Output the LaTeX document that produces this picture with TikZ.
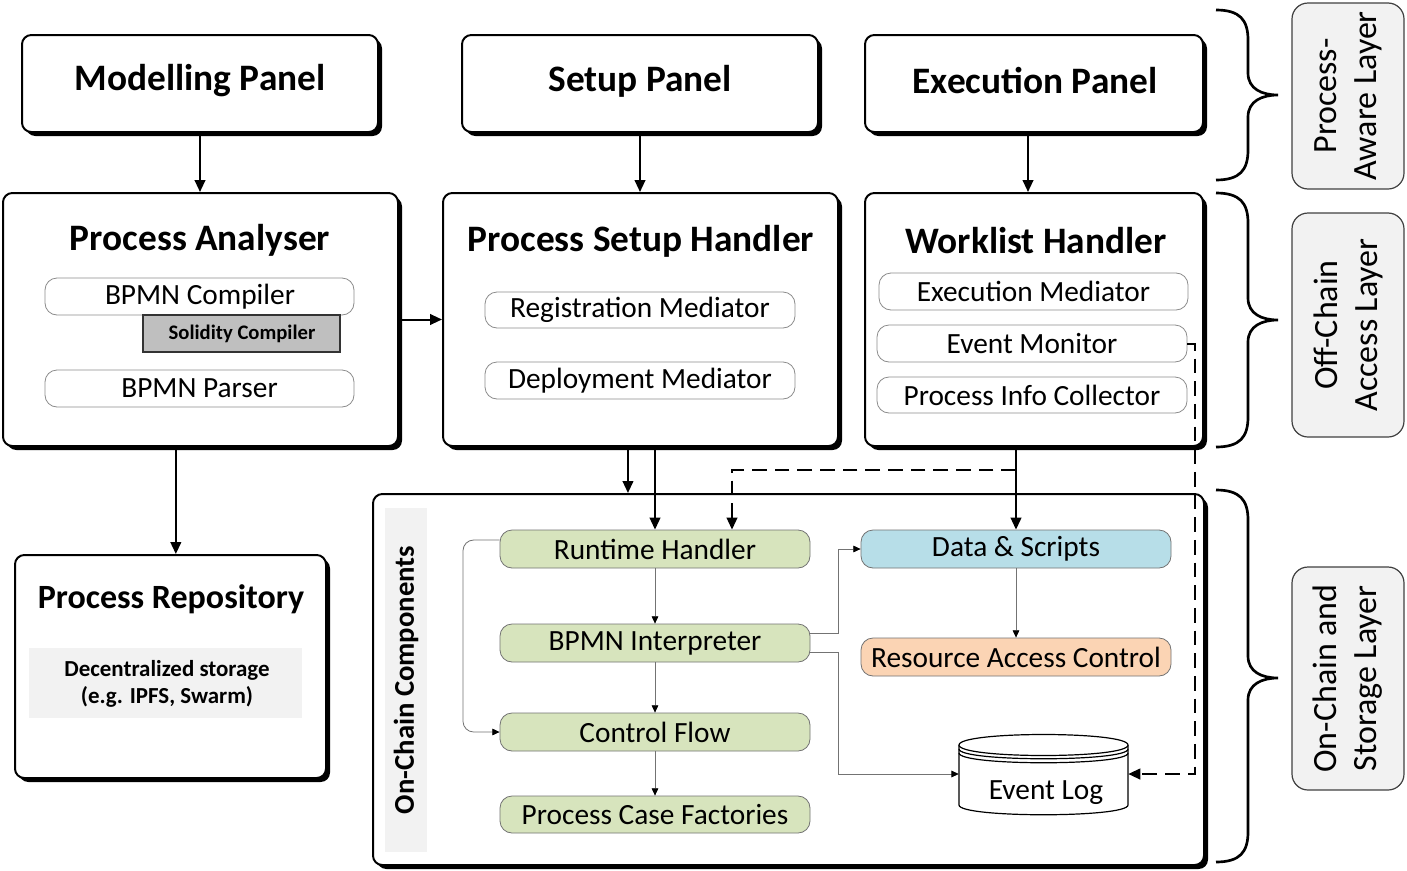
\documentclass[tikz,border=0pt]{standalone}
\usepackage{fontspec}
\setmainfont{Carlito}
\usetikzlibrary{arrows.meta,fit,shadows,calc}
\definecolor{greenbox}{HTML}{D7E4BD}
\definecolor{bluebox}{HTML}{B7DEE8}
\definecolor{peachbox}{HTML}{FBD4B4}
\definecolor{lightgray}{HTML}{F2F2F2}
\definecolor{solgray}{HTML}{BFBFBF}
\newcommand\titlefont{\fontsize{28}{32}\selectfont\bfseries}
\newcommand\subfont{\fontsize{22}{26}\selectfont}
\newcommand\layerfont{\fontsize{25.5}{30}\selectfont}
\newcommand\layerbrace[3]{%
  \draw[brc] (1216,#1) .. controls (1240,#1) and (1248,#1+10) .. (1248,#1+30)
    -- (1248,#2-22) .. controls (1248,#2-6) and (1262,#2) .. (1278,#2)
    .. controls (1262,#2) and (1248,#2+6) .. (1248,#2+22)
    -- (1248,#3-30) .. controls (1248,#3-10) and (1240,#3) .. (1216,#3);}
\begin{document}
\begin{tikzpicture}[x=0.75pt,y=-0.75pt,
  panel/.style={draw,line width=1.5pt,rounded corners=7pt,fill=white,inner sep=0pt,
    drop shadow={shadow xshift=3pt,shadow yshift=-3pt,opacity=1,fill=black}},
  subbox/.style={draw=black!45,line width=0.6pt,rounded corners=9pt,fill=white,inner sep=0pt},
  greenbx/.style={subbox,draw=black!55,fill=greenbox},
  bluebx/.style={subbox,draw=black!55,fill=bluebox},
  peachbx/.style={subbox,draw=black!55,fill=peachbox},
  solbox/.style={draw=black!80,line width=0.8pt,fill=solgray,inner sep=0pt},
  layerbox/.style={draw=black!75,line width=0.9pt,rounded corners=12pt,fill=lightgray,inner sep=0pt},
  ttl/.style={font=\titlefont,inner sep=0pt},
  txt/.style={font=\subfont,inner sep=0pt},
  arr/.style={line width=1.5pt,-{Triangle[length=9pt,width=8pt]}},
  darr/.style={arr,dash pattern=on 11pt off 6pt},
  tarr/.style={draw=black!55,line width=0.6pt,-{Triangle[length=5.5pt,width=5pt,color=black]}},
  brc/.style={line width=2pt},
]
\useasboundingbox (0,0) rectangle (1407,871);

% top panels
\node[panel,fit={(22,35) (378,132)}] (mp) {};
\node[ttl] at (200,81) {Modelling Panel};
\node[panel,fit={(462,35) (818,132)}] (sp) {};
\node[ttl] at (640,81) {Setup Panel};
\node[panel,fit={(865,35) (1203,132)}] (ep) {};
\node[ttl] at (1035,81) {Execution Panel};

% middle handlers
\node[panel,fit={(3,193) (398,446)}] (pa) {};
\node[ttl] (pat) at (200,240) {Process Analyser};
\node[subbox,fit={(45,278) (354,315)}] (bc) {};
\node[txt] at (200,297) {BPMN Compiler};
\node[solbox,fit={(143,315) (340,352)}] (sc) {};
\node[font=\fontsize{15.5}{18}\selectfont\bfseries,inner sep=0pt] at (242,334) {Solidity Compiler};
\node[subbox,fit={(45,370) (354,407)}] (bp) {};
\node[txt] at (bp.center) {BPMN Parser};

\node[panel,fit={(443,193) (838,446)}] (psh) {};
\node[ttl] (psht) at (641,241) {Process Setup Handler};
\node[subbox,fit={(485,292) (795,328)}] (rm) {};
\node[txt] at (rm.center) {Registration Mediator};
\node[subbox,fit={(485,362) (795,399)}] (dm) {};
\node[txt] at (dm.center) {Deployment Mediator};

\node[panel,fit={(865,193) (1203,446)}] (wh) {};
\node[ttl] (wht) at (1036,241) {Worklist Handler};
\node[subbox,fit={(879,273) (1188,310)}] (exm) {};
\node[txt] at (exm.center) {Execution Mediator};
\node[subbox,fit={(877,325) (1187,362)}] (evm) {};
\node[txt] at (evm.center) {Event Monitor};
\node[subbox,fit={(877,377) (1187,413)}] (pic) {};
\node[txt] at (pic.center) {Process Info Collector};

% process repository
\node[panel,fit={(15,555) (326,778)}] (pr) {};
\node[font=\fontsize{25.5}{30}\selectfont\bfseries,inner sep=0pt] (prt) at (171,599) {Process Repository};
\node[fill=lightgray,inner sep=0pt,fit={(29,648) (302,718)}] (ds0) {};
\node[align=center,font=\fontsize{17.2}{20}\selectfont\bfseries] (dst) at (167,684) {Decentralized storage\\(e.g. IPFS, Swarm)};

% on-chain container
\node[panel,fit={(373,494) (1204,865)}] (oc) {};
\node[fill=lightgray,inner sep=0pt,fit={(385,508) (427,852)}] (strip) {};
\node[rotate=90,font=\fontsize{21.5}{24}\selectfont\bfseries] (occ) at (406,680) {On-Chain Components};

\node[greenbx,fit={(500,530) (810,568)}] (rh) {};
\node[txt] at (rh.center) {Runtime Handler};
\node[greenbx,fit={(500,624) (810,662)}] (bi) {};
\node[txt] at (bi.center) {BPMN Interpreter};
\node[greenbx,fit={(500,713) (810,751)}] (cf) {};
\node[txt] at (cf.center) {Control Flow};
\node[greenbx,fit={(500,796) (810,833)}] (pcf) {};
\node[txt] at (pcf.center) {Process Case Factories};
\node[bluebx,fit={(861,530) (1171,568)}] (ds) {};
\node[txt] at (ds.center) {Data \& Scripts};
\node[peachbx,fit={(861,638) (1171,676)}] (rac) {};
\node[txt] at (rac.center) {Resource Access Control};

% event log cylinder
\node[inner sep=0pt,fit={(959,733) (1128,815)}] (el) {};
\draw[line width=0.9pt,fill=white] (959,745) -- (959,805) .. controls (959,818) and (1128,818) .. (1128,805) -- (1128,745);
\draw[line width=0.9pt,fill=white] (959,745) .. controls (959,731) and (1128,731) .. (1128,745) .. controls (1128,759) and (959,759) .. (959,745);
\draw[line width=0.9pt] (959,749) .. controls (959,762) and (1128,762) .. (1128,749);
\draw[line width=0.9pt] (959,753) .. controls (959,766) and (1128,766) .. (1128,753);
\node[txt] (elt) at (1046,793) {Event Log};

% layer braces and labels
\layerbrace{10}{95}{180}
\layerbrace{193}{320}{447}
\layerbrace{490}{678}{862}
\node[layerbox,fit={(1292,3) (1404,189)}] (l1) {};
\node[rotate=90,align=center,font=\layerfont] at (l1.center) {Process-\\Aware Layer};
\node[layerbox,fit={(1292,213) (1404,437)}] (l2) {};
\node[rotate=90,align=center,font=\layerfont] at (l2.center) {Off-Chain\\Access Layer};
\node[layerbox,fit={(1292,567) (1404,790)}] (l3) {};
\node[rotate=90,align=center,font=\layerfont] at (l3.center) {On-Chain and\\Storage Layer};

% connectors
\draw[arr] (mp.south) -- (mp.south |- pa.north);
\draw[arr] (sp.south) -- (sp.south |- psh.north);
\draw[arr] ([xshift=-4.5pt]ep.south) -- ([xshift=-4.5pt]ep.south |- wh.north);
\draw[arr] (pa.east) -- (psh.west);
\draw[arr] ([xshift=4pt]pr.north |- pa.south) -- ([xshift=4pt]pr.north);
\draw[arr] ([xshift=-9.4pt]psh.south) -- ([xshift=-9.4pt]psh.south |- oc.north);
\draw[arr] (rh.north |- psh.south) -- (rh.north);
\draw[arr] (ds.north |- wh.south) -- (ds.north);
\coordinate (dj) at (1016,470);
\draw[darr] (dj) -| ([xshift=57.75pt]rh.north);
\coordinate (dc) at (1195,774);
\draw[darr] (evm.east) -| (dc) -- (el.east);

\draw[tarr] (rh.south) -- (bi.north);
\draw[tarr] (bi.south) -- (cf.north);
\draw[tarr] (cf.south) -- (pcf.north);
\draw[tarr] (ds.south) -- (rac.north);
\coordinate (lp) at (463,732);
\draw[tarr,rounded corners=8pt] ([yshift=6.75pt]rh.west) -| (lp) -- (cf.west);
\draw[tarr] ([yshift=7.5pt]bi.east) -- ++(21pt,0) |- (ds.west);
\draw[tarr] ([yshift=-6.75pt]bi.east) -- ++(21pt,0) |- (el.west);
\end{tikzpicture}
\end{document}
